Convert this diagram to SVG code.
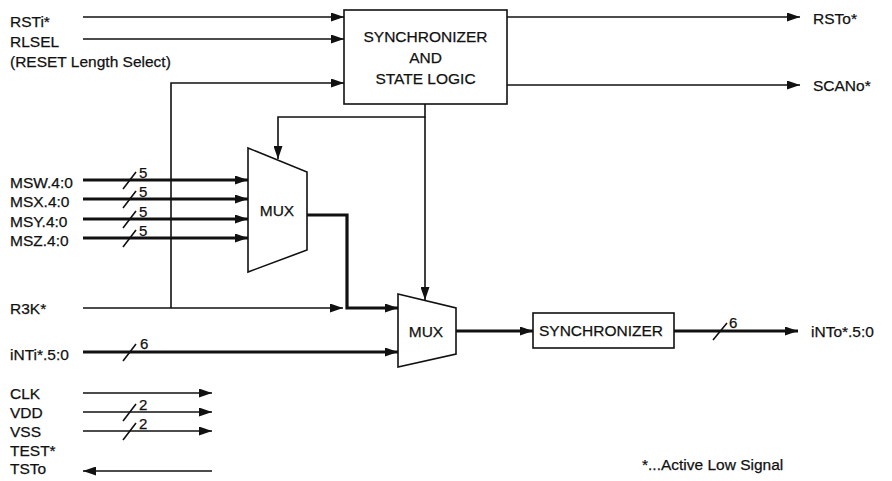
<svg xmlns="http://www.w3.org/2000/svg" width="892" height="481" viewBox="0 0 892 481">
<style>
text{font-family:"Liberation Sans",Arial,sans-serif;font-size:15.5px;fill:#111;stroke:#111;stroke-width:0.25}
.n{font-size:15px}
.c{text-anchor:middle}
.box{fill:#fff;stroke:#111;stroke-width:1.6}
.w{fill:none;stroke:#111;stroke-width:1.6}
.b{fill:none;stroke:#111;stroke-width:3.2}
.s{fill:none;stroke:#111;stroke-width:1.6}
</style>
<defs>
<marker id="ah" markerUnits="userSpaceOnUse" markerWidth="13" markerHeight="9" refX="13" refY="4.5" orient="auto">
<path d="M0,0 L13,4.5 L0,9 z" fill="#111"/>
</marker>
</defs>
<rect width="892" height="481" fill="#fff"/>

<g id="sync_logic">
<rect class="box" x="344" y="10" width="163" height="94"/>
<text class="c" x="425.5" y="42">SYNCHRONIZER</text>
<text class="c" x="425.5" y="63">AND</text>
<text class="c" x="425.5" y="84">STATE LOGIC</text>
</g>
<g id="mux1">
<path class="box" d="M248,148 L307,172 L307,250 L248,272 Z"/>
<text class="c" x="277" y="216">MUX</text>
</g>
<g id="mux2">
<path class="box" d="M398,294 L456,308 L456,354 L398,367 Z"/>
<text class="c" x="426" y="337">MUX</text>
</g>
<g id="sync">
<rect class="box" x="533" y="313" width="141" height="35"/>
<text class="c" x="601" y="336">SYNCHRONIZER</text>
</g>

<g id="labels">
<text x="10" y="27">RSTi*</text>
<text x="10" y="47">RLSEL</text>
<text x="10" y="67">(RESET Length Select)</text>
<text x="10" y="188">MSW.4:0</text>
<text x="10" y="207">MSX.4:0</text>
<text x="10" y="227">MSY.4:0</text>
<text x="10" y="246">MSZ.4:0</text>
<text x="10" y="314">R3K*</text>
<text x="10" y="360">iNTi*.5:0</text>
<text x="10" y="399">CLK</text>
<text x="10" y="418">VDD</text>
<text x="10" y="437">VSS</text>
<text x="10" y="456">TEST*</text>
<text x="10" y="474">TSTo</text>
<text x="813" y="24">RSTo*</text>
<text x="813" y="91">SCANo*</text>
<text x="811" y="337">iNTo*.5:0</text>
<text x="642" y="470">*...Active Low Signal</text>
</g>

<g id="connectors">
<line class="w" x1="83" y1="17" x2="344" y2="17" marker-end="url(#ah)"/>
<line class="w" x1="83" y1="39" x2="344" y2="39" marker-end="url(#ah)"/>
<polyline class="w" points="171,308 171,83 344,83" marker-end="url(#ah)"/>
<line class="w" x1="507" y1="17" x2="800" y2="17" marker-end="url(#ah)"/>
<line class="w" x1="507" y1="85" x2="800" y2="85" marker-end="url(#ah)"/>
<polyline class="w" points="425,104 425,117 278,117 278,159" marker-end="url(#ah)"/>
<line class="w" x1="425" y1="117" x2="425" y2="300" marker-end="url(#ah)"/>

<line class="b" x1="83" y1="180" x2="248" y2="180" marker-end="url(#ah)"/>
<line class="b" x1="83" y1="199" x2="248" y2="199" marker-end="url(#ah)"/>
<line class="b" x1="83" y1="219" x2="248" y2="219" marker-end="url(#ah)"/>
<line class="b" x1="83" y1="238" x2="248" y2="238" marker-end="url(#ah)"/>
<polyline class="b" points="307,215 347,215 347,308 398,308" marker-end="url(#ah)"/>
<line class="w" x1="83" y1="308" x2="343" y2="308" marker-end="url(#ah)"/>
<line class="b" x1="83" y1="352" x2="398" y2="352" marker-end="url(#ah)"/>
<line class="b" x1="456" y1="331" x2="533" y2="331" marker-end="url(#ah)"/>
<line class="b" x1="674" y1="331" x2="798" y2="331" marker-end="url(#ah)"/>

<line class="w" x1="83" y1="393" x2="212" y2="393" marker-end="url(#ah)"/>
<line class="w" x1="83" y1="412" x2="212" y2="412" marker-end="url(#ah)"/>
<line class="w" x1="83" y1="431" x2="212" y2="431" marker-end="url(#ah)"/>
<line class="w" x1="212" y1="471" x2="83" y2="471" marker-end="url(#ah)"/>

<g id="bus_marks">
<path class="s" d="M123,189 L136,172 M123,208 L136,191 M123,228 L136,211 M123,247 L136,230 M123,361 L136,344 M713,340 L727,323 M123,421 L136,404 M123,440 L136,423"/>
<text class="n" x="139" y="178">5</text>
<text class="n" x="139" y="197">5</text>
<text class="n" x="139" y="217">5</text>
<text class="n" x="139" y="236">5</text>
<text class="n" x="140" y="349">6</text>
<text class="n" x="729" y="328">6</text>
<text class="n" x="139" y="410">2</text>
<text class="n" x="139" y="429">2</text>
</g>
</g>
</svg>
